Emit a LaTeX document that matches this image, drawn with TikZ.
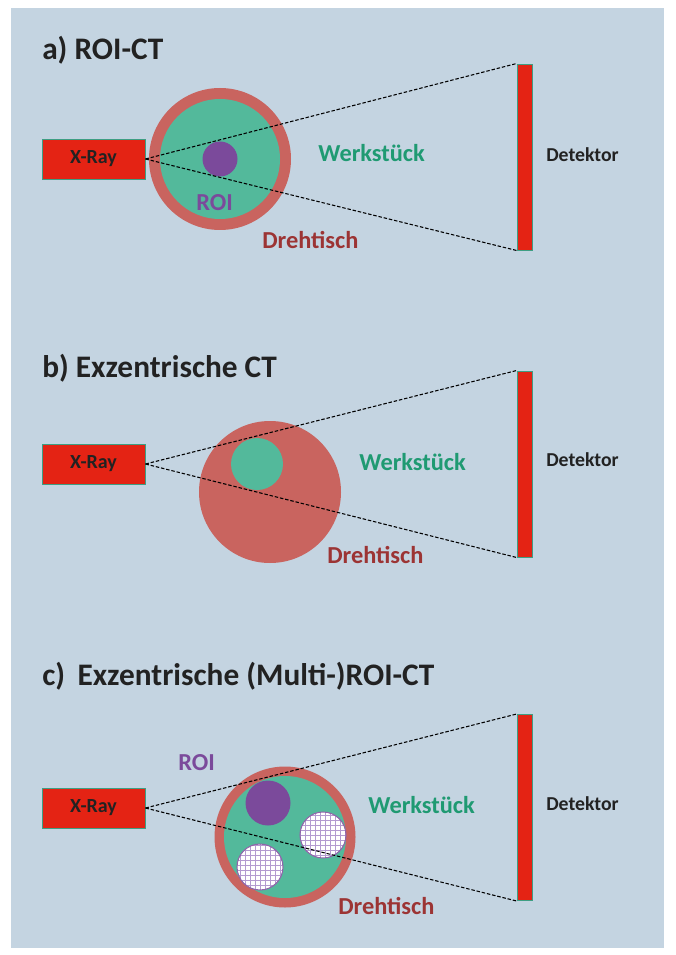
\documentclass[tikz,border=0pt]{standalone}
\usepackage{fontspec}
\setmainfont{Carlito}
\definecolor{panelbg}{HTML}{C4D4E1}
\definecolor{rayred}{HTML}{E42314}
\definecolor{tablered}{HTML}{C9645F}
\definecolor{workgreen}{HTML}{53B99B}
\definecolor{roipurple}{HTML}{7B4A9B}
\definecolor{gridpurple}{HTML}{B39AD0}
\definecolor{labelgreen}{HTML}{1F9A72}
\definecolor{labelred}{HTML}{9C3434}
\definecolor{edgeteal}{HTML}{3E9E83}
\definecolor{inkblack}{HTML}{222222}
\begin{document}
\begin{tikzpicture}[
        x=0.75pt, y=-0.75pt,
        title/.style={anchor=base west, inner sep=0pt, font=\fontsize{23.5}{27}\selectfont\bfseries, text=inkblack},
        source/.style={rectangle, draw=edgeteal, line width=0.7pt, fill=rayred, minimum width=77.25pt, minimum height=30pt, inner sep=0pt, font=\fontsize{15}{17}\selectfont\bfseries, text=inkblack},
        detector/.style={rectangle, draw=edgeteal, line width=0.7pt, fill=rayred, minimum width=11.25pt, minimum height=139.5pt, inner sep=0pt},
        detlabel/.style={anchor=west, inner sep=0pt, font=\fontsize{14.8}{17}\selectfont\bfseries, text=inkblack},
        worklabel/.style={anchor=west, inner sep=0pt, font=\fontsize{18.3}{21}\selectfont\bfseries, text=labelgreen},
        tablelabel/.style={anchor=west, inner sep=0pt, font=\fontsize{18.3}{21}\selectfont\bfseries, text=labelred},
        roilabel/.style={anchor=west, inner sep=0pt, font=\fontsize{18.3}{21}\selectfont\bfseries, text=roipurple},
        beam/.style={draw=black, line width=0.8pt, dash pattern=on 2.6pt off 1.4pt},
        multiroi/.style={draw=roipurple!85, line width=0.8pt}
    ]
    \useasboundingbox (0,0) rectangle (675,955);
    \fill[panelbg] (11,8) rectangle (664,948);

    % a) ROI-CT
    \node[title] (ta) at (42,60) {a) ROI-CT};
    \fill[tablered] (220,159) circle[radius=71];
    \fill[workgreen] (220,159) circle[radius=60];
    \fill[roipurple] (220,159) circle[radius=17.5];
    \node[source] (xa) at (93.5,159) {X-Ray};
    \node[detector] (da) at (524.5,157) {};
    \draw[beam] (xa.east) -- (da.north west);
    \draw[beam] (xa.east) -- (da.south west);
    \node[roilabel] (ra) at (196,203) {ROI};
    \node[worklabel] (wa) at (318,153) {Werkstück};
    \node[tablelabel] (ha) at (262,240) {Drehtisch};
    \node[detlabel] (la) at (546,155) {Detektor};

    % b) Exzentrische CT
    \node[title] (tb) at (42,377) {b) Exzentrische CT};
    \fill[tablered] (270,492) circle[radius=71];
    \fill[workgreen] (257,464) circle[radius=26];
    \node[source] (xb) at (93.5,464) {X-Ray};
    \node[detector] (db) at (524.5,464) {};
    \draw[beam] (xb.east) -- (db.north west);
    \draw[beam] (xb.east) -- (db.south west);
    \node[worklabel] (wb) at (359,462) {Werkstück};
    \node[tablelabel] (hb) at (327,555) {Drehtisch};
    \node[detlabel] (lb) at (546,460) {Detektor};

    % c) Exzentrische (Multi-)ROI-CT
    \node[title] (tc) at (42,685) {c)\hspace{4pt} Exzentrische (Multi-)ROI-CT};
    \fill[tablered] (285,837) circle[radius=70.5];
    \fill[workgreen] (285,837) circle[radius=61];
    \fill[roipurple] (268,803) circle[radius=22.5];
    \foreach \cx/\cy in {323/835, 260/867} {
        \fill[white] (\cx,\cy) circle[radius=23];
        \begin{scope}
            \clip (\cx,\cy) circle[radius=23];
            \draw[gridpurple, line width=0.5pt, step=3.75pt] (\cx-25,\cy-25) grid (\cx+25,\cy+25);
        \end{scope}
        \draw[multiroi] (\cx,\cy) circle[radius=23];
    }
    \node[source] (xc) at (93.5,808) {X-Ray};
    \node[detector] (dc) at (524.5,807.5) {};
    \draw[beam] (xc.east) -- (dc.north west);
    \draw[beam] (xc.east) -- (dc.south west);
    \node[roilabel] (rc) at (178,763) {ROI};
    \node[worklabel] (wc) at (368,805) {Werkstück};
    \node[tablelabel] (hc) at (338,906) {Drehtisch};
    \node[detlabel] (lc) at (546,804) {Detektor};
\end{tikzpicture}
\end{document}
